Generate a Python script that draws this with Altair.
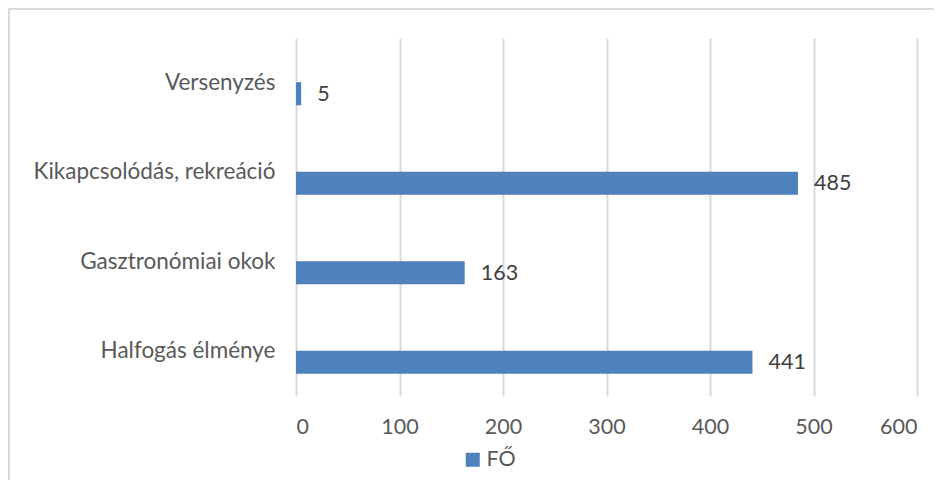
import altair as alt
import pandas as pd

categories = ["Versenyzés", "Kikapcsolódás, rekreáció", "Gasztronómiai okok", "Halfogás élménye"]
values = [5, 485, 163, 441]
series = ["FŐ"] * 4

df = pd.DataFrame({"cat": categories, "val": values, "series": series})

FONT = "Lato"
FS = 21.5
y_enc = alt.Y("cat:N", sort=categories, title=None,
              scale=alt.Scale(paddingInner=0, paddingOuter=0),
              axis=alt.Axis(ticks=False, domain=False, labelPadding=21, labelFontSize=22.5,
                            labelColor="#595959", labelFont=FONT, labelLimit=400))
x_enc = alt.X("val:Q", title=None, scale=alt.Scale(domain=[0, 600], nice=False),
              axis=alt.Axis(values=[0, 100, 200, 300, 400, 500, 600], ticks=False, domain=False,
                            labelPadding=20, labelFontSize=FS, labelColor="#595959", labelFont=FONT,
                            gridColor="#d9d9d9", gridWidth=2))

frame = alt.Chart(df).mark_rect(fill=None, stroke="#d9d9d9", strokeWidth=2).encode(
    x=alt.value(-287), x2=alt.value(700), y=alt.value(-29), y2=alt.value(500)
)

bars = alt.Chart(df).mark_bar(size=23, yOffset=11).encode(
    x=x_enc, y=y_enc,
    color=alt.Color("series:N", scale=alt.Scale(range=["#4f81bd"]),
                    legend=alt.Legend(title=None, orient="none", legendX=166, legendY=411,
                                      symbolType="square", symbolSize=196, symbolStrokeWidth=0,
                                      labelFontSize=FS, labelColor="#595959", labelFont=FONT,
                                      labelOffset=3, padding=0))
)

labels = alt.Chart(df).mark_text(align="left", baseline="middle", dx=16, yOffset=12,
                                 fontSize=FS, color="#404040", font=FONT).encode(
    x="val:Q", y=alt.Y("cat:N", sort=categories), text="val:Q"
)

chart = alt.layer(frame, bars, labels).properties(
    width=621, height=358,
    autosize=alt.AutoSizeParams(type="none"),
    padding={"left": 288, "top": 30, "right": 17, "bottom": 84},
).configure_view(stroke=None)

chart.save("out.html", embed_options={"renderer": "svg", "actions": False})
